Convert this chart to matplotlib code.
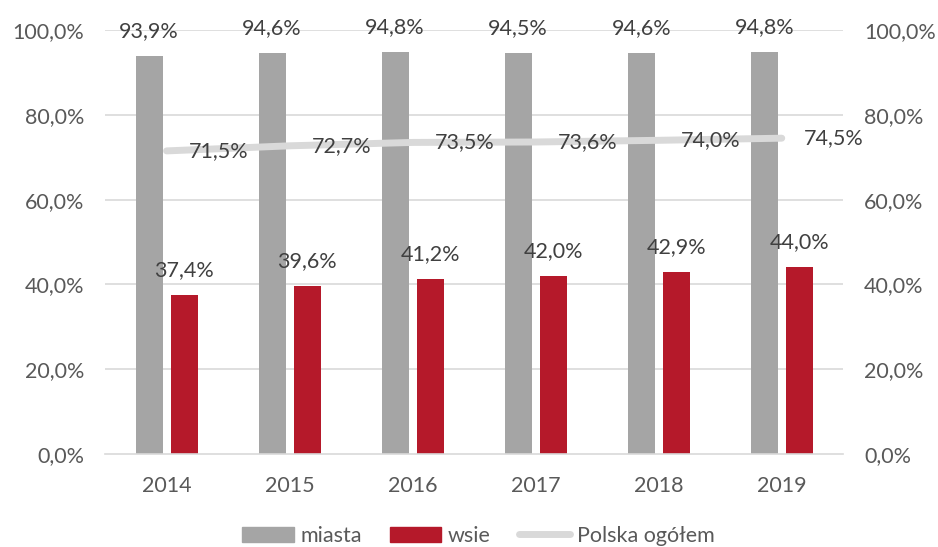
import matplotlib
matplotlib.use("Agg")
import matplotlib.pyplot as plt
import numpy as np
from matplotlib.lines import Line2D
from matplotlib.patches import Patch

years = ["2014", "2015", "2016", "2017", "2018", "2019"]
miasta = [93.9, 94.6, 94.8, 94.5, 94.6, 94.8]
wsie = [37.4, 39.6, 41.2, 42.0, 42.9, 44.0]
polska = [71.5, 72.7, 73.5, 73.6, 74.0, 74.5]
yticks = [0, 20, 40, 60, 80, 100]

GRAY = "#a5a5a5"
RED = "#b5192a"
LINE = "#d9d9d9"
TXT = "#595959"
LBL = "#404040"
FS = 15.5

plt.rcParams["font.family"] = ["Lato", "DejaVu Sans"]

def pct(v):
    return f"{v:.1f}".replace(".", ",") + "%"

fig = plt.figure(figsize=(9.38, 5.47), dpi=100)
ax = fig.add_axes([0.112, 0.170, 0.787, 0.775])

x = np.arange(len(years))
w = 0.22
off = 0.142

ax.set_xlim(-0.5, len(years) - 0.5)
ax.set_ylim(0, 100)
for t in yticks[1:]:
    ax.axhline(t, color=LINE, lw=1.2, zorder=0)

ax.bar(x - off, miasta, w, color=GRAY, zorder=2)
ax.bar(x + off, wsie, w, color=RED, zorder=2)
ax.plot(x, polska, color=LINE, lw=5, solid_capstyle="round", zorder=3)

for xi, v in zip(x, miasta):
    ax.annotate(pct(v), (xi - off, v), xytext=(0, 18), textcoords="offset points",
                ha="center", va="center", fontsize=FS, color=LBL)
for xi, v in zip(x, wsie):
    ax.annotate(pct(v), (xi + off, v), xytext=(0, 18), textcoords="offset points",
                ha="center", va="center", fontsize=FS, color=LBL)
for xi, v in zip(x, polska):
    ax.annotate(pct(v), (xi, v), xytext=(16, 0), textcoords="offset points",
                ha="left", va="center", fontsize=FS, color=LBL, zorder=4)

ax.set_xticks(x)
ax.set_xticklabels(years)
ax.set_yticks(yticks)
ax.set_yticklabels([pct(t) for t in yticks])
ax.tick_params(axis="x", length=0, pad=16, labelsize=FS, labelcolor=TXT)
ax.tick_params(axis="y", length=0, pad=15, labelsize=FS, labelcolor=TXT,
               right=False, labelright=True)
for s in ["top", "left", "right"]:
    ax.spines[s].set_visible(False)
ax.spines["bottom"].set_color(LINE)
ax.spines["bottom"].set_linewidth(1.2)

handles = [Patch(color=GRAY), Patch(color=RED),
           Line2D([0], [0], color=LINE, lw=5, solid_capstyle="round")]
fig.legend(handles, ["miasta", "wsie", "Polska ogółem"], loc="center",
           bbox_to_anchor=(0.51, 0.02), ncol=3, frameon=False, fontsize=FS,
           labelcolor=TXT, handlelength=2.4, handleheight=0.75,
           handletextpad=0.3, columnspacing=1.3)

fig.savefig("out.png", dpi=100)
